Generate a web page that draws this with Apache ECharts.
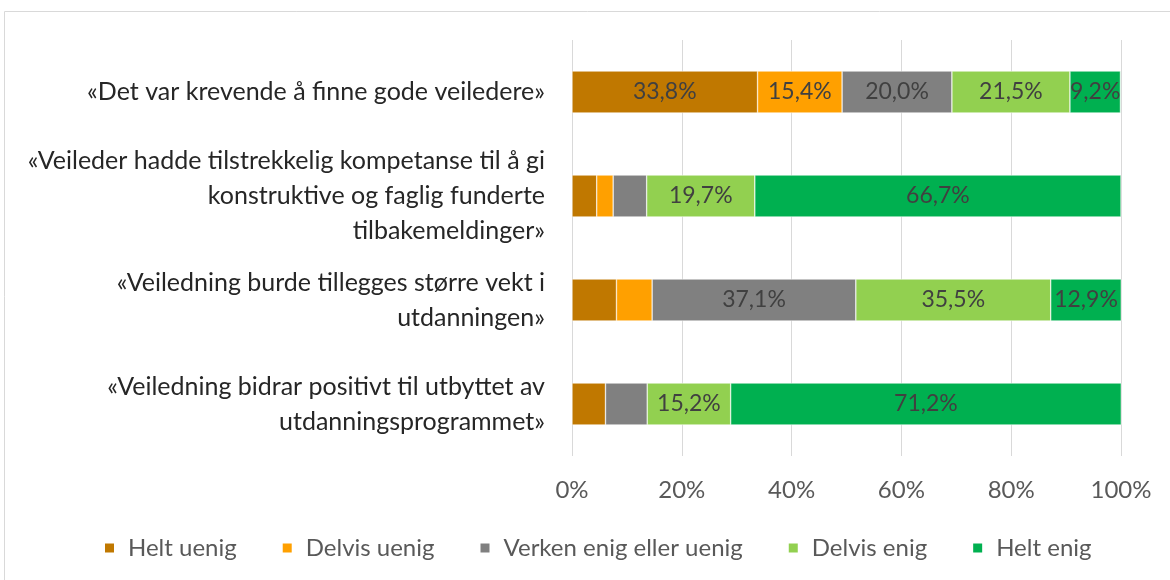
<!DOCTYPE html>
<html><head><meta charset="utf-8">
<script src="https://cdn.jsdelivr.net/npm/echarts@6/dist/echarts.min.js"></script>
<style>html,body{margin:0;padding:0;background:#fff}#c{width:1170px;height:580px}</style>
</head><body><div id="c"></div>
<script>
const categories = [
  "«Det var krevende å finne gode veiledere»",
  "«Veileder hadde tilstrekkelig kompetanse til å gi\nkonstruktive og faglig funderte\ntilbakemeldinger»",
  "«Veiledning burde tillegges større vekt i\nutdanningen»",
  "«Veiledning bidrar positivt til utbyttet av\nutdanningsprogrammet»"
];
const seriesNames = ["Helt uenig","Delvis uenig","Verken enig eller uenig","Delvis enig","Helt enig"];
const colors = ["#c07800","#ffa000","#808080","#92d050","#00b050"];
const heltUenig   = [33.8, 4.5, 8.1, 6.1];
const delvisUenig = [15.4, 3.0, 6.5, 0];
const verken      = [20.0, 6.1, 37.1, 7.6];
const delvisEnig  = [21.5, 19.7, 35.5, 15.2];
const heltEnig    = [9.2, 66.7, 12.9, 71.2];
const xTicks = [0,20,40,60,80,100];
const values = [heltUenig, delvisUenig, verken, delvisEnig, heltEnig];
const FONT = "Lato";
const chart = echarts.init(document.getElementById('c'));
chart.setOption({
  animation:false,
  textStyle:{fontFamily:FONT},
  graphic:[{type:'rect',shape:{x:4.5,y:11.5,width:1170,height:575},style:{fill:'none',stroke:'#d9d9d9',lineWidth:1},silent:true}],
  grid:{left:572,right:49,top:40,bottom:124},
  legend:{bottom:15,left:98,padding:5,itemWidth:11,itemHeight:11,itemGap:44,icon:'rect',
    textStyle:{fontFamily:FONT,fontSize:24,color:'#595959',padding:[0,0,0,8]},data:seriesNames},
  xAxis:{type:'value',min:0,max:100,interval:20,
    axisLabel:{formatter:v=>xTicks.includes(v)?v+'%':'',fontSize:24,color:'#595959',margin:22,fontFamily:FONT},
    splitLine:{lineStyle:{color:'#d9d9d9',width:1}},axisLine:{show:false},axisTick:{show:false}},
  yAxis:{type:'category',inverse:true,data:categories,
    axisLabel:{fontSize:25,color:'#262626',lineHeight:35,align:'right',margin:27,fontFamily:FONT},
    axisLine:{show:false},axisTick:{show:false}},
  series:seriesNames.map((n,i)=>({
    name:n,type:'bar',stack:'t',barWidth:42,data:values[i],
    itemStyle:{color:colors[i],borderColor:'#ffffff',borderWidth:0.5},
    label:{show:true,position:'inside',fontSize:23,color:'#404040',fontFamily:FONT,
      formatter:p=>p.value>=9?p.value.toFixed(1).replace('.',',')+'%':''}
  }))
});
</script></body></html>
